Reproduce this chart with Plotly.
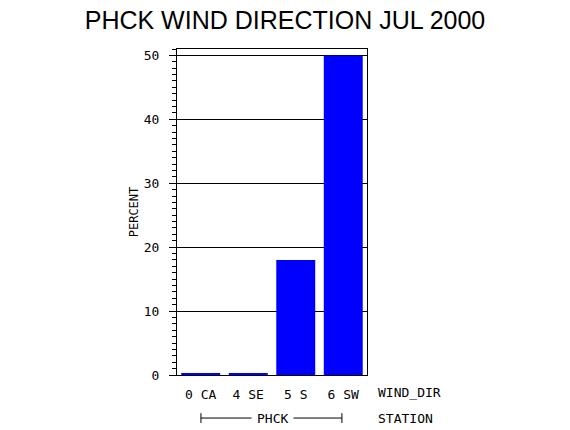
import plotly.graph_objects as go

# values
directions = ['0 CA', '4 SE', '5 S', '6 SW']
percent = [0.2, 0.2, 18.0, 50.0]
station = 'PHCK'
y_ticks = [0, 10, 20, 30, 40, 50]

MONO = 'DejaVu Sans Mono'

fig = go.Figure(go.Bar(x=directions, y=percent, marker=dict(color='#0000ff', line=dict(width=0)),
                       width=0.82, hoverinfo='skip'))

fig.update_layout(
    width=570, height=430,
    margin=dict(l=177, r=203, t=49, b=55),
    paper_bgcolor='white', plot_bgcolor='white',
    showlegend=False,
    title=dict(text='PHCK WIND DIRECTION JUL 2000', x=0.5, xanchor='center',
               y=1 - 20 / 430, yanchor='middle',
               font=dict(family='Liberation Sans', size=25, color='black')),
    font=dict(family=MONO, size=12, color='black'),
)
fig.update_xaxes(
    type='category', showline=True, linecolor='black', linewidth=1, mirror=True,
    ticks='', showgrid=False, tickfont=dict(family=MONO, size=13),
    ticklabelstandoff=7, range=[-0.5, 3.5],
)
fig.update_yaxes(
    range=[0, 51], tickvals=y_ticks, showline=True, linecolor='black', linewidth=1, mirror=True,
    ticks='outside', ticklen=7, tickcolor='black', showgrid=True, gridcolor='black', gridwidth=1,
    minor=dict(dtick=1, ticks='outside', ticklen=4, tickcolor='black', showgrid=False),
    tickfont=dict(family=MONO, size=13), zeroline=False, ticklabelstandoff=7,
    title=dict(text='PERCENT', font=dict(family=MONO, size=12), standoff=2),
)

# axis labels to the right of the tick labels and the station bracket
fig.add_annotation(text='WIND_DIR', xref='paper', yref='paper', x=1.045, y=-0.055,
                   xanchor='left', yanchor='middle', showarrow=False, font=dict(family=MONO, size=13))
fig.add_annotation(text='STATION', xref='paper', yref='paper', x=1.045, y=-0.132,
                   xanchor='left', yanchor='middle', showarrow=False, font=dict(family=MONO, size=13))
fig.add_annotation(text=station, xref='paper', yref='paper', x=0.5, y=-0.132,
                   xanchor='center', yanchor='middle', showarrow=False, font=dict(family=MONO, size=13),
                   bgcolor='white', borderpad=5)
fig.add_shape(type='line', xref='paper', yref='paper', x0=0.126, x1=0.868, y0=-0.132, y1=-0.132,
              line=dict(color='black', width=1), layer='below')
for xp in (0.126, 0.868):
    fig.add_shape(type='line', xref='paper', yref='paper', x0=xp, x1=xp, y0=-0.117, y1=-0.147,
                  line=dict(color='black', width=1))

# drop the browser's default body margin so the figure fills the window exactly
fig.write_html('out.html', config={'displayModeBar': False},
               post_script="document.body.style.margin = '0';")
